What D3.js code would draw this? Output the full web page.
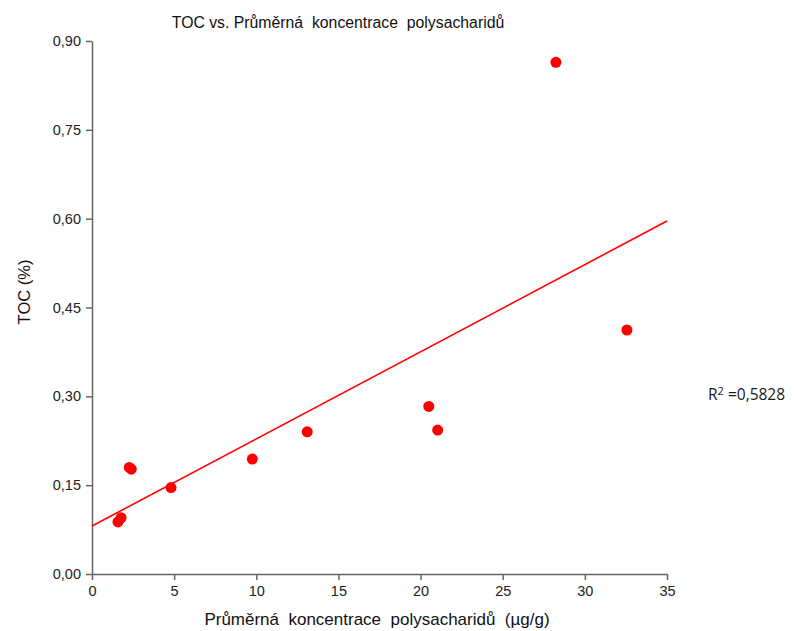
<!DOCTYPE html>
<html><head><meta charset="utf-8">
<script src="https://cdn.jsdelivr.net/npm/d3@7"></script>
<style>body{margin:0;background:#fff}svg{display:block}</style>
</head><body>
<svg id="c" width="795" height="631"></svg>
<script>
const xValues = [1.58, 1.77, 2.27, 2.39, 4.81, 9.76, 13.1, 20.5, 21.04, 28.24, 32.56];
const yValues = [0.088, 0.095, 0.180, 0.177, 0.146, 0.194, 0.240, 0.283, 0.243, 0.864, 0.412];
const fitX = [0, 35];
const fitY = [0.081, 0.596];
const xTicks = [0, 5, 10, 15, 20, 25, 30, 35];
const yTicks = [0, 0.15, 0.30, 0.45, 0.60, 0.75, 0.90];
const rSquared = "0,5828";

const svg = d3.select("#c");
const x = d3.scaleLinear().domain([0, 35]).range([92, 667]);
const y = d3.scaleLinear().domain([0, 0.90]).range([574, 41]);
const fmt = d => d.toFixed(2).replace(".", ",");
const sans = "Liberation Sans, Arial, sans-serif";

const axisColor = "#666";
const gx = svg.append("g").attr("transform", "translate(0,574)")
  .call(d3.axisBottom(x).tickValues(xTicks).tickSize(6).tickSizeOuter(0).tickPadding(6));
const gy = svg.append("g").attr("transform", "translate(92,0)")
  .call(d3.axisLeft(y).tickValues(yTicks).tickFormat(fmt).tickSize(6).tickSizeOuter(0).tickPadding(5));
[gx, gy].forEach(g => {
  g.select(".domain").attr("stroke", axisColor).attr("stroke-width", 1.5);
  g.selectAll(".tick line").attr("stroke", axisColor).attr("stroke-width", 1.5);
  g.selectAll(".tick text").attr("fill", "#222").attr("font-size", 14.5)
    .attr("font-family", sans);
});

svg.append("line")
  .attr("x1", x(fitX[0])).attr("y1", y(fitY[0]))
  .attr("x2", x(fitX[1])).attr("y2", y(fitY[1]))
  .attr("stroke", "#ff0000").attr("stroke-width", 1.6);

svg.append("g").selectAll("circle").data(xValues.map((v, i) => [v, yValues[i]]))
  .join("circle")
  .attr("cx", d => x(d[0])).attr("cy", d => y(d[1])).attr("r", 5.5)
  .attr("fill", "#ff0000");

svg.append("text").attr("x", 338).attr("y", 28).attr("text-anchor", "middle")
  .attr("font-family", sans).attr("font-size", 15.8).attr("fill", "#111")
  .attr("xml:space", "preserve")
  .text("TOC vs. Průměrná  koncentrace  polysacharidů");

svg.append("text").attr("transform", "translate(30,292) rotate(-90)").attr("text-anchor", "middle")
  .attr("font-family", sans).attr("font-size", 16.5).attr("fill", "#111")
  .text("TOC (%)");

svg.append("text").attr("x", 377).attr("y", 625).attr("text-anchor", "middle")
  .attr("font-family", sans).attr("font-size", 17).attr("fill", "#111")
  .attr("xml:space", "preserve")
  .text("Průměrná  koncentrace  polysacharidů  (µg/g)");

const r = svg.append("text").attr("x", 708).attr("y", 400)
  .attr("font-family", "Open Sans, Noto Sans, sans-serif").attr("font-size", 15.5).attr("fill", "#1a1a1a");
r.append("tspan").text("R");
r.append("tspan").attr("dy", -5).attr("font-size", 11).text("2");
r.append("tspan").attr("dy", 5).text(" =" + rSquared);
</script>
</body></html>
